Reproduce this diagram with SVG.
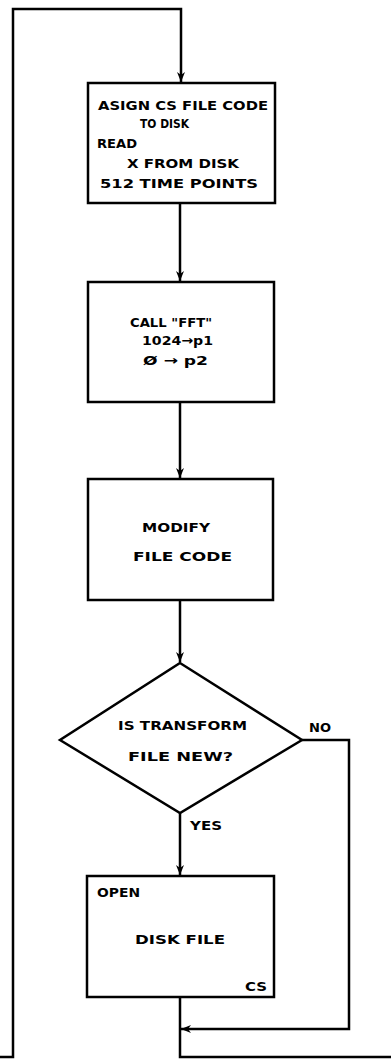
<svg xmlns="http://www.w3.org/2000/svg" width="391" height="1059" viewBox="0 0 391 1059">
<style>
.b{fill:#fff;stroke:#000;stroke-width:2.5}
.c{fill:none;stroke:#000;stroke-width:2.5;stroke-linejoin:miter}
.t{font-family:"DejaVu Sans","Liberation Sans",sans-serif;font-weight:bold;font-size:13px;fill:#000}
</style>
<defs>
<marker id="ah" viewBox="0 0 10 10" refX="10" refY="5" markerWidth="10" markerHeight="10" markerUnits="userSpaceOnUse" orient="auto">
<path d="M0,1 L10,5 L0,9 L3,5 Z" fill="#000"/>
</marker>
</defs>
<rect width="391" height="1059" fill="#fff"/>
<g id="connectors">
<path class="c" d="M0,1057 H13 V9 H181 V82" marker-end="url(#ah)"/>
<path class="c" d="M180,203 V281" marker-end="url(#ah)"/>
<path class="c" d="M180,402 V478" marker-end="url(#ah)"/>
<path class="c" d="M180,600 V662" marker-end="url(#ah)"/>
<path class="c" d="M180,813 V875" marker-end="url(#ah)"/>
<path class="c" d="M302,740 H349 V1029 H181" marker-end="url(#ah)"/>
<path class="c" d="M180,997 V1057 H391"/>
</g>
<g id="n1">
<rect class="b" x="88" y="83" width="187" height="120"/>
<text class="t" x="98" y="110" textLength="170" lengthAdjust="spacingAndGlyphs">ASIGN  CS FILE CODE</text>
<text class="t" x="140" y="128" textLength="49" lengthAdjust="spacingAndGlyphs">TO DISK</text>
<text class="t" x="97" y="148" textLength="40" lengthAdjust="spacingAndGlyphs">READ</text>
<text class="t" x="127" y="168" textLength="112" lengthAdjust="spacingAndGlyphs">X FROM DISK</text>
<text class="t" x="100" y="188" textLength="158" lengthAdjust="spacingAndGlyphs">512 TIME POINTS</text>
</g>
<g id="n2">
<rect class="b" x="88" y="282" width="186" height="120"/>
<text class="t" x="130" y="327" textLength="82" lengthAdjust="spacingAndGlyphs">CALL "FFT"</text>
<text class="t" x="142" y="345" textLength="71" lengthAdjust="spacingAndGlyphs">1024→p1</text>
<text class="t" x="143" y="365" textLength="65" lengthAdjust="spacingAndGlyphs">Ø → p2</text>
</g>
<g id="n3">
<rect class="b" x="88" y="479" width="185" height="121"/>
<text class="t" x="142" y="532" textLength="68" lengthAdjust="spacingAndGlyphs">MODIFY</text>
<text class="t" x="133" y="561" textLength="99" lengthAdjust="spacingAndGlyphs">FILE CODE</text>
</g>
<g id="n4">
<polygon class="b" points="180,663 302,740 180,813 60,740"/>
<text class="t" x="118" y="730" textLength="129" lengthAdjust="spacingAndGlyphs">IS TRANSFORM</text>
<text class="t" x="128" y="761" textLength="105" lengthAdjust="spacingAndGlyphs">FILE NEW?</text>
<text class="t" x="309" y="732" textLength="22" lengthAdjust="spacingAndGlyphs">NO</text>
<text class="t" x="190" y="830" textLength="32" lengthAdjust="spacingAndGlyphs">YES</text>
</g>
<g id="n5">
<rect class="b" x="87" y="876" width="187" height="121"/>
<text class="t" x="97" y="897" textLength="43" lengthAdjust="spacingAndGlyphs">OPEN</text>
<text class="t" x="135" y="944" textLength="90" lengthAdjust="spacingAndGlyphs">DISK FILE</text>
<text class="t" x="245" y="991" textLength="22" lengthAdjust="spacingAndGlyphs">CS</text>
</g>
</svg>
